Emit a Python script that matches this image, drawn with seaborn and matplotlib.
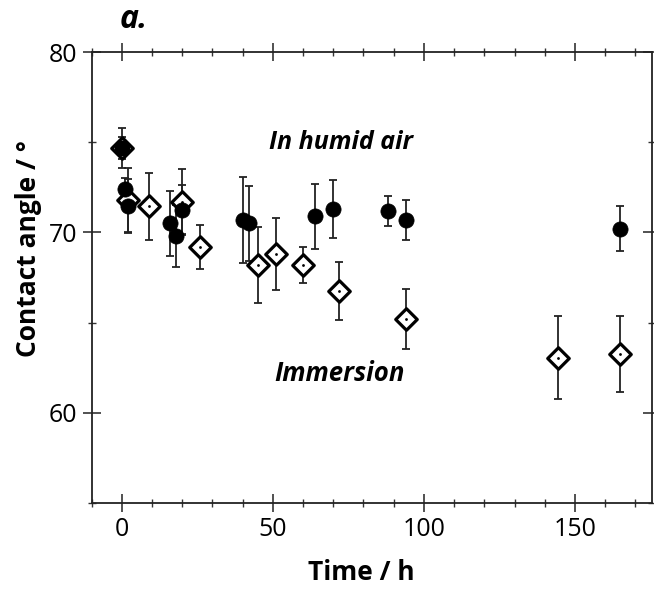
import numpy as np
import pandas as pd
import matplotlib
matplotlib.use("Agg")
import matplotlib.pyplot as plt
import seaborn as sns
from matplotlib.ticker import MultipleLocator

# ---- data ----
humid_t = [0, 1, 2, 16, 18, 20, 40, 42, 64, 70, 88, 94, 165]
humid_ca = [74.7, 72.4, 71.45, 70.5, 69.8, 71.25, 70.7, 70.5, 70.9, 71.3, 71.2, 70.7, 70.2]
humid_err = [1.1, 0.6, 1.5, 1.8, 1.7, 1.4, 2.4, 2.1, 1.8, 1.6, 0.85, 1.1, 1.25]

imm_t = [0, 2, 9, 20, 26, 45, 51, 60, 72, 94, 144.5, 165]
imm_ca = [74.7, 71.8, 71.45, 71.7, 69.2, 68.2, 68.8, 68.2, 66.75, 65.2, 63.05, 63.25]
imm_err = [0.6, 1.8, 1.85, 1.8, 1.2, 2.1, 2.0, 1.0, 1.6, 1.65, 2.3, 2.1]

x_ticks = [0, 50, 100, 150]
y_ticks = [60, 70, 80]

sns.set_style("ticks")
plt.rcParams['font.family'] = ['Open Sans', 'DejaVu Sans']
plt.rcParams['text.color'] = 'black'
plt.rcParams['axes.labelcolor'] = 'black'
plt.rcParams['xtick.labelcolor'] = 'black'
plt.rcParams['ytick.labelcolor'] = 'black'

humid = pd.DataFrame({"t": humid_t, "ca": humid_ca, "err": humid_err})
imm = pd.DataFrame({"t": imm_t, "ca": imm_ca, "err": imm_err})

fig = plt.figure(figsize=(6.54, 5.93), dpi=100)
ax = fig.add_axes([0.140, 0.152, 0.857, 0.760])

# error bars
ax.errorbar(imm["t"], imm["ca"], yerr=imm["err"], fmt="none", ecolor="#222222",
            elinewidth=1.3, capsize=3, capthick=1.3, zorder=1)
ax.errorbar(humid["t"], humid["ca"], yerr=humid["err"], fmt="none", ecolor="#222222",
            elinewidth=1.3, capsize=3, capthick=1.3, zorder=1)

# immersion diamonds
sns.scatterplot(data=imm, x="t", y="ca", marker="D", s=120, facecolor="white",
                edgecolor="black", linewidth=2.3, ax=ax, zorder=3)
sns.scatterplot(data=imm, x="t", y="ca", marker="o", s=4, color="black",
                linewidth=0, ax=ax, zorder=4)
# humid air circles
sns.scatterplot(data=humid, x="t", y="ca", marker="o", s=120, color="black",
                edgecolor="black", linewidth=0.5, ax=ax, zorder=5)

ax.set_xlim(-10, 175.5)
ax.set_ylim(55, 80)
ax.set_xticks(x_ticks)
ax.set_yticks(y_ticks)
ax.xaxis.set_minor_locator(MultipleLocator(10))
ax.yaxis.set_minor_locator(MultipleLocator(5))
ax.tick_params(which="major", direction="inout", length=13, width=1.2,
               top=True, right=True, labelsize=18, color="#333333", pad=4)
ax.tick_params(which="minor", direction="inout", length=6, width=1.0,
               top=True, right=True, color="#333333")
for sp in ax.spines.values():
    sp.set_linewidth(1.3)
    sp.set_color("#222222")

ax.set_xlabel("Time / h", fontsize=19, fontweight="bold")
ax.set_ylabel("Contact angle / °", fontsize=19, fontweight="bold")
ax.xaxis.set_label_coords(0.482, -0.125)
ax.yaxis.set_label_coords(-0.088, 0.565)

ax.text(72.5, 74.97, "In humid air", fontsize=18, fontweight="bold",
        fontstyle="italic", ha="center", va="center")
ax.text(72.2, 62.15, "Immersion", fontsize=18.5, fontweight="bold",
        fontstyle="italic", ha="center", va="center")
ax.text(3.8, 81.8, "a.", fontsize=23, fontweight="bold", fontstyle="italic",
        ha="center", va="center", clip_on=False)

fig.savefig("out.png", dpi=100)
